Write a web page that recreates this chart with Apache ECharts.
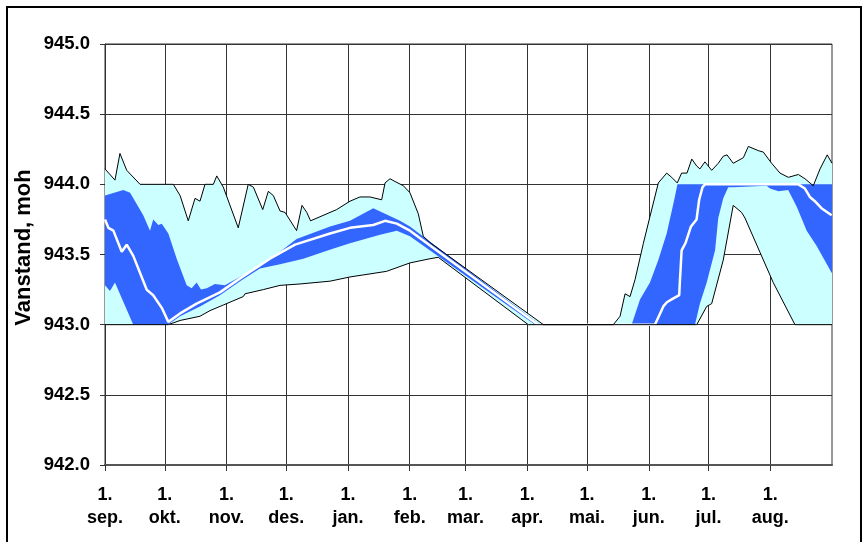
<!DOCTYPE html>
<html>
<head>
<meta charset="utf-8">
<script src="https://cdn.jsdelivr.net/npm/echarts@6/dist/echarts.min.js"></script>
<style>
html, body { margin: 0; padding: 0; background: #fff; }
#chart { width: 864px; height: 542px; }
</style>
</head>
<body>
<div id="chart"></div>
<script>
// Hydrological year, day 0 = 1. sep.
const monthNames = ['sep.', 'okt.', 'nov.', 'des.', 'jan.', 'feb.', 'mar.', 'apr.', 'mai.', 'jun.', 'jul.', 'aug.'];
const monthStarts = [0, 30, 61, 91, 122, 153, 181, 212, 242, 273, 303, 334];
const yearLength = 365;

// Water level, metres above sea level (moh): [day, level]
const maxLevel = [
  [0, 944.11], [5.0, 944.03], [7.5, 944.22], [10.9, 944.10], [17.6, 944.00], [34.3, 944.00],
  [37.7, 943.92], [41.8, 943.74], [45.2, 943.90], [47.7, 943.88], [50.2, 944.00], [54.4, 944.00],
  [56.1, 944.06], [59.4, 943.98], [66.9, 943.69], [71.9, 944.00], [74.5, 943.98], [79.2, 943.82],
  [82.0, 943.95], [84.5, 943.92], [87.9, 943.81], [90.4, 943.80], [96.2, 943.67], [98.9, 943.85],
  [101.3, 943.80], [103.2, 943.74], [116.3, 943.82], [123.0, 943.88], [128.0, 943.91], [133.0, 943.91],
  [138.9, 943.89], [140.6, 944.01], [143.1, 944.04], [145.6, 944.02], [149.8, 943.99], [153.1, 943.94],
  [157.3, 943.79], [159.8, 943.63], [163.2, 943.585], [220.1, 943.00], [255.2, 943.00],
  [258.6, 943.06], [261.1, 943.22], [263.6, 943.20], [266.1, 943.32], [270.3, 943.58], [273.6, 943.77],
  [277.8, 944.01], [282.0, 944.08], [284.5, 944.05], [287.3, 944.01], [289.5, 944.08], [292.2, 944.08],
  [294.6, 944.18], [297.1, 944.13], [298.7, 944.11], [301.2, 944.16], [304.6, 944.10], [307.9, 944.15],
  [310.4, 944.20], [312.3, 944.21], [315.4, 944.15], [320.5, 944.19], [323.0, 944.27], [328.0, 944.24],
  [330.5, 944.23], [334.7, 944.15], [338.9, 944.08], [343.1, 944.05], [348.1, 944.07], [351.4, 944.04],
  [355.6, 943.99], [359.0, 944.11], [362.6, 944.21], [365, 944.15]
];

const minLevel = [
  [0, 943.00], [31.8, 943.00], [37.7, 943.03], [47.7, 943.06], [52.7, 943.10], [59.4, 943.14],
  [69.4, 943.20], [70.3, 943.22], [79.5, 943.25], [87.9, 943.28], [97.9, 943.29], [113.0, 943.31],
  [123.0, 943.34], [141.4, 943.38], [153.1, 943.44], [163.2, 943.47], [167.3, 943.48], [212.5, 943.00],
  [297.1, 943.00], [302.1, 943.13], [304.6, 943.15], [310.4, 943.46], [315.4, 943.85], [319.6, 943.80],
  [321.3, 943.76], [335.5, 943.30], [346.4, 943.00], [365, 943.00]
];

const upperQuartile = [
  [0, 943.92], [9.2, 943.96], [12.6, 943.94], [19.2, 943.78], [22.6, 943.67], [24.2, 943.75],
  [26.8, 943.71], [28.5, 943.72], [31.8, 943.65], [36.0, 943.47], [41.0, 943.28], [43.5, 943.26],
  [46.0, 943.30], [48.2, 943.25], [51.1, 943.26], [55.2, 943.29], [60.2, 943.28], [72.8, 943.38],
  [87.9, 943.52], [96.2, 943.61], [113.0, 943.70], [123.0, 943.74], [134.7, 943.83], [140.6, 943.79],
  [148.1, 943.74], [153.1, 943.70], [218.4, 943.00], [264.4, 943.00], [268.6, 943.18], [273.6, 943.30],
  [277.8, 943.46], [282.0, 943.65], [285.8, 943.89], [287.4, 944.00], [365, 944.00]
];

const lowerQuartile = [
  [0, 943.28], [2.5, 943.24], [5.0, 943.30], [14.2, 943.00], [31.6, 943.00], [37.7, 943.06],
  [47.7, 943.13], [57.7, 943.21], [67.8, 943.31], [77.8, 943.40], [87.9, 943.43], [99.6, 943.47],
  [112.1, 943.53], [123.0, 943.58], [138.1, 943.64], [146.5, 943.67], [153.1, 943.63], [215.9, 943.00],
  [296.2, 943.00], [298.7, 943.15], [302.1, 943.30], [306.3, 943.53], [307.9, 943.76], [310.4, 943.90],
  [312.9, 943.98], [315.4, 943.98], [332.2, 943.99], [333.9, 943.97], [338.1, 943.95], [343.0, 943.96],
  [347.3, 943.84], [352.3, 943.67], [357.3, 943.56], [364.8, 943.37], [365, 943.37]
];

const medianLevel = [
  [0, 943.75], [1.7, 943.69], [4.2, 943.67], [8.4, 943.52], [10.9, 943.57], [14.2, 943.49],
  [20.9, 943.25], [24.2, 943.21], [28.5, 943.12], [31.8, 943.02], [37.7, 943.08], [46.0, 943.15],
  [57.7, 943.23], [67.8, 943.33], [82.8, 943.47], [95.4, 943.57], [113.0, 943.65], [123.0, 943.69],
  [134.7, 943.71], [140.6, 943.74], [146.5, 943.72], [153.1, 943.67], [217.4, 943.00], [276.1, 943.00],
  [280.3, 943.13], [282.1, 943.16], [284.5, 943.18], [288.3, 943.21], [288.6, 943.30], [289.5, 943.53],
  [291.4, 943.58], [294.2, 943.70], [297.0, 943.75], [298.3, 943.89], [300.0, 943.98], [301.3, 944.00],
  [348.1, 944.00], [351.4, 943.97], [353.9, 943.91], [356.4, 943.88], [359.7, 943.83], [364.8, 943.78],
  [365, 943.78]
];

const yMin = 942.0, yMax = 945.0, yStep = 0.5;
// The reservoir is empty between the two seasons; each band is drawn as two separate areas.
const seasonSplitDay = 240;

function bandSeries(name, upper, lower, color, z) {
  return {
    name: name,
    type: 'custom',
    coordinateSystem: 'cartesian2d',
    silent: true,
    z: z,
    data: [[0, yMin]],
    renderItem: function (params, api) {
      const parts = [[0, seasonSplitDay], [seasonSplitDay, yearLength]];
      const children = parts.map(function (range) {
        const inRange = function (p) { return p[0] >= range[0] && p[0] <= range[1]; };
        const top = upper.filter(inRange).map(function (p) { return api.coord(p); });
        const bottom = lower.filter(inRange).slice().reverse().map(function (p) { return api.coord(p); });
        return {
          type: 'polygon',
          shape: { points: top.concat(bottom) },
          style: { fill: color }
        };
      });
      return { type: 'group', children: children };
    }
  };
}

function lineSeries(name, data, color, width, z) {
  return {
    name: name,
    type: 'line',
    data: data,
    showSymbol: false,
    symbol: 'none',
    silent: true,
    z: z,
    lineStyle: { color: color, width: width },
    emphasis: { disabled: true }
  };
}

const chart = echarts.init(document.getElementById('chart'), null, { renderer: 'canvas' });

chart.setOption({
  animation: false,
  backgroundColor: '#fff',
  textStyle: { fontFamily: '"Liberation Sans", Arial, sans-serif' },
  grid: {
    left: 105, right: 32, top: 44, bottom: 77,
    show: true, borderColor: '#333', borderWidth: 1, backgroundColor: 'transparent'
  },
  xAxis: {
    type: 'value',
    min: 0,
    max: yearLength,
    axisLine: { show: true, lineStyle: { color: '#555', width: 2 } },
    axisTick: { show: true, customValues: monthStarts, length: 6, lineStyle: { color: '#333' } },
    axisLabel: {
      customValues: monthStarts,
      margin: 19,
      color: '#000',
      fontWeight: 'bold',
      fontSize: 18,
      lineHeight: 23,
      align: 'center',
      formatter: function (v) {
        const i = monthStarts.indexOf(Math.round(v));
        return i < 0 ? '' : '1.\n' + monthNames[i];
      }
    },
    splitLine: { show: true, lineStyle: { color: '#333', width: 1 } }
  },
  yAxis: {
    type: 'value',
    min: yMin,
    max: yMax,
    interval: yStep,
    name: 'Vanstand, moh',
    nameLocation: 'middle',
    nameGap: 70,
    nameMoveOverlap: false,
    nameTextStyle: { color: '#000', fontWeight: 'bold', fontSize: 22, padding: [0, 0, 0, 14] },
    axisLine: { show: true, lineStyle: { color: '#333', width: 1 } },
    axisTick: { show: true, length: 5, lineStyle: { color: '#333' } },
    axisLabel: {
      margin: 15,
      color: '#000',
      fontWeight: 'bold',
      fontSize: 18.5,
      formatter: function (v) { return v.toFixed(1); }
    },
    splitLine: { show: true, lineStyle: { color: '#333', width: 1 } }
  },
  graphic: [{
    type: 'rect',
    silent: true,
    shape: { x: 7, y: 7, width: 854, height: 600 },
    style: { fill: null, stroke: '#000', lineWidth: 2 }
  }],
  series: [
    bandSeries('Min-maks', maxLevel, minLevel, '#CCFFFF', 1),
    bandSeries('Kvartiler', upperQuartile, lowerQuartile, '#3366FF', 2),
    lineSeries('Median', medianLevel, '#FFFFFF', 2.5, 3),
    lineSeries('Maks', maxLevel, '#000000', 1, 4),
    lineSeries('Min', minLevel, '#000000', 1, 4)
  ]
});
</script>
</body>
</html>
